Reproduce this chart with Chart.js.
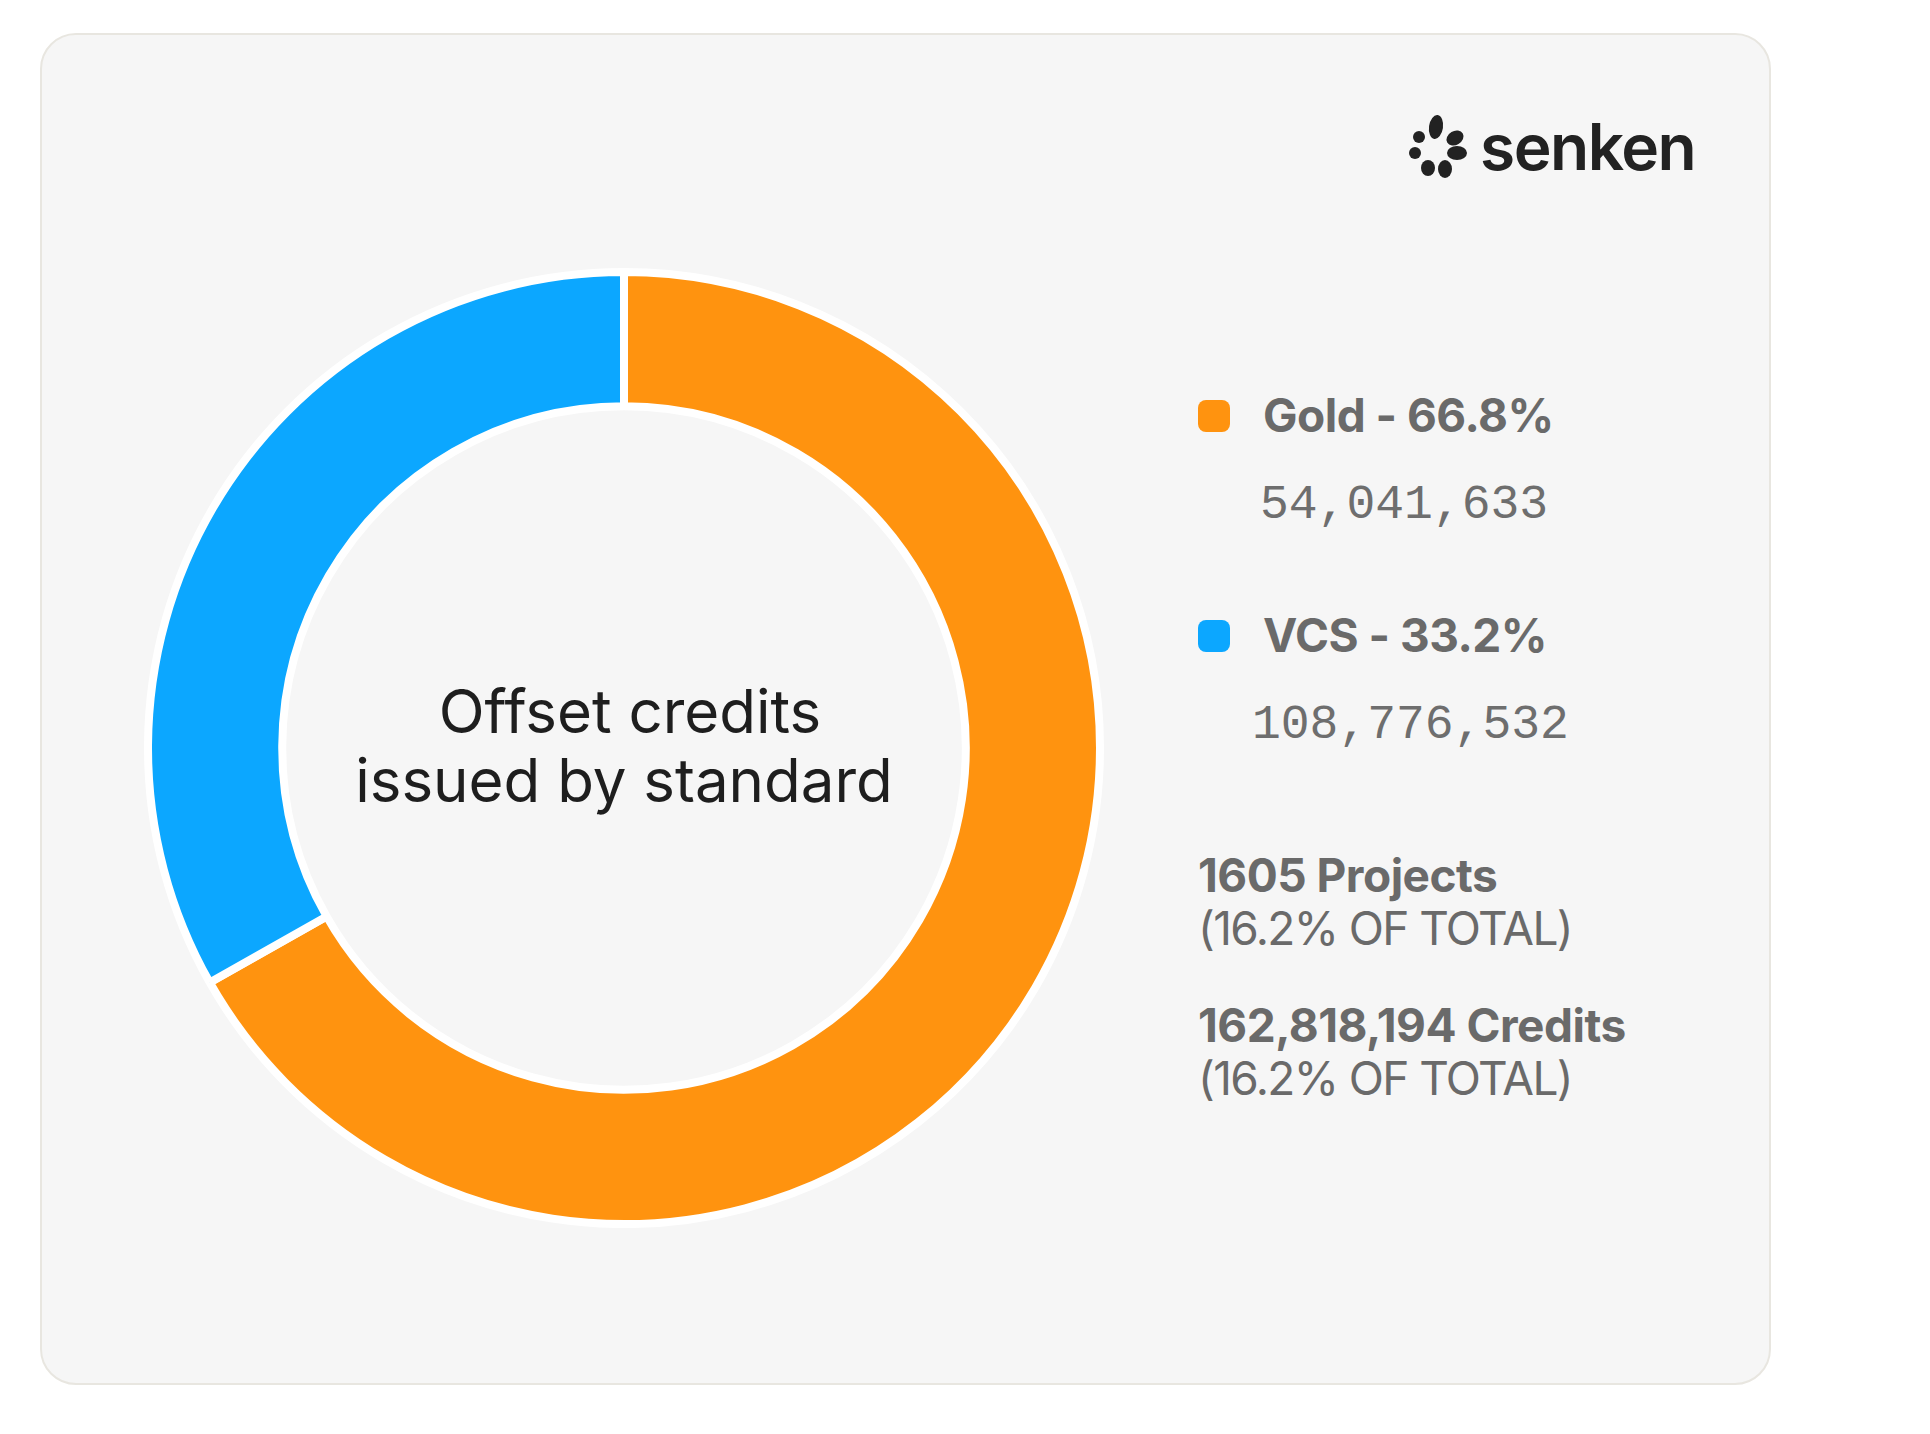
<!DOCTYPE html>
<html>
<head>
<meta charset="utf-8">
<script src="https://cdn.jsdelivr.net/npm/chart.js@4.4.1/dist/chart.umd.min.js"></script>
<style>
  body { margin: 0; background: #fff; width: 1930px; height: 1434px; position: relative; overflow: hidden; font-family: Inter, "Noto Sans", sans-serif; }
  .card { position: absolute; left: 40px; top: 33px; width: 1727px; height: 1348px; background: #f6f6f6; border: 2px solid #e8e6e0; border-radius: 36px; }
  .chart-box { position: absolute; left: 144px; top: 268px; width: 960px; height: 960px; }
  .t { position: absolute; white-space: nowrap; line-height: 1; color: #6a6a6a; }
  .b { font-weight: 700; font-size: 46px; letter-spacing: -0.5px; }
  .r { font-weight: 400; font-size: 46px; letter-spacing: -1.6px; }
  .m { font-family: "Liberation Mono", "DejaVu Sans Mono", monospace; font-size: 48px; color: #6e6e6e; }
  .sw { position: absolute; width: 32px; height: 32px; border-radius: 8px; }
  .logo { position: absolute; left: 1406px; top: 110px; }
  .logo-txt { position: absolute; left: 1480px; top: 115px; font-size: 64px; font-weight: 600; color: #222; letter-spacing: -1.5px; line-height: 1; }
</style>
</head>
<body>
<div class="card"></div>
<svg class="logo" width="70" height="75" viewBox="1406 110 70 75">
  <g fill="#222">
    <ellipse cx="1436" cy="127" rx="7" ry="12" transform="rotate(8 1436 127)"/>
    <ellipse cx="1455" cy="138" rx="9" ry="7" transform="rotate(-30 1455 138)"/>
    <circle cx="1419" cy="137" r="6"/>
    <circle cx="1415" cy="153" r="6"/>
    <ellipse cx="1457" cy="153" rx="10" ry="7"/>
    <ellipse cx="1428" cy="168" rx="7" ry="8"/>
    <ellipse cx="1445" cy="169" rx="7" ry="9"/>
  </g>
</svg>
<div class="logo-txt">senken</div>
<div class="chart-box"><canvas id="donut"></canvas></div>
<div id="legend"></div>
<script>
var labels = ['Gold', 'VCS'];
var shares = [66.8, 33.2];
var credits = ['54,041,633', '108,776,532'];
var colors = ['#ff930f', '#0ca7ff'];
var centerLines = ['Offset credits', 'issued by standard'];
var projects = '1605';
var totalCredits = '162,818,194';
var ofTotal = '16.2%';

// legend + totals on the right
var legend = document.getElementById('legend');
var rows = [392, 612];
var numX = [1260, 1252];
var html = '';
labels.forEach((lab, i) => {
  var top = rows[i];
  html += `<div class="sw" style="left:1198px;top:${top + 8}px;background:${colors[i]}"></div>`;
  html += `<div class="t b" style="left:1263px;top:${top}px">${lab} - ${shares[i]}%</div>`;
  html += `<div class="t m" style="left:${numX[i]}px;top:${top + 89}px">${credits[i]}</div>`;
});
html += `<div class="t b" style="left:1198px;top:852px">${projects} Projects</div>`;
html += `<div class="t r" style="left:1198px;top:905px">(${ofTotal} OF TOTAL)</div>`;
html += `<div class="t b" style="left:1198px;top:1002px">${totalCredits} Credits</div>`;
html += `<div class="t r" style="left:1198px;top:1055px">(${ofTotal} OF TOTAL)</div>`;
legend.innerHTML = html;

// white ring behind the arcs, and the title in the hole
var ringBg = {
  id: 'ringBg',
  beforeDatasetsDraw(chart) {
    var arc = chart.getDatasetMeta(0).data[0];
    if (!arc) return;
    var ctx = chart.ctx;
    ctx.save();
    ctx.beginPath();
    ctx.arc(arc.x, arc.y, arc.outerRadius + 3, 0, Math.PI * 2);
    ctx.arc(arc.x, arc.y, arc.innerRadius - 3, 0, Math.PI * 2, true);
    ctx.fillStyle = '#fff';
    ctx.fill();
    ctx.restore();
  },
  afterDatasetsDraw(chart) {
    var arc = chart.getDatasetMeta(0).data[0];
    if (!arc) return;
    var ctx = chart.ctx;
    ctx.save();
    ctx.font = '400 60px Inter';
    ctx.fillStyle = '#1e1e1e';
    ctx.textAlign = 'center';
    ctx.fillText(centerLines[0], arc.x + 6, arc.y - 15);
    ctx.fillText(centerLines[1], arc.x, arc.y + 54);
    ctx.restore();
  }
};

new Chart(document.getElementById('donut'), {
  type: 'doughnut',
  data: {
    labels: labels,
    datasets: [{
      data: shares,
      backgroundColor: colors,
      borderColor: '#fff',
      borderWidth: 8,
      hoverOffset: 0
    }]
  },
  options: {
    responsive: true,
    maintainAspectRatio: false,
    animation: false,
    cutout: '71.8%',
    layout: { padding: 0 },
    plugins: {
      legend: { display: false },
      tooltip: { enabled: false }
    }
  },
  plugins: [ringBg]
});
</script>
</body>
</html>
